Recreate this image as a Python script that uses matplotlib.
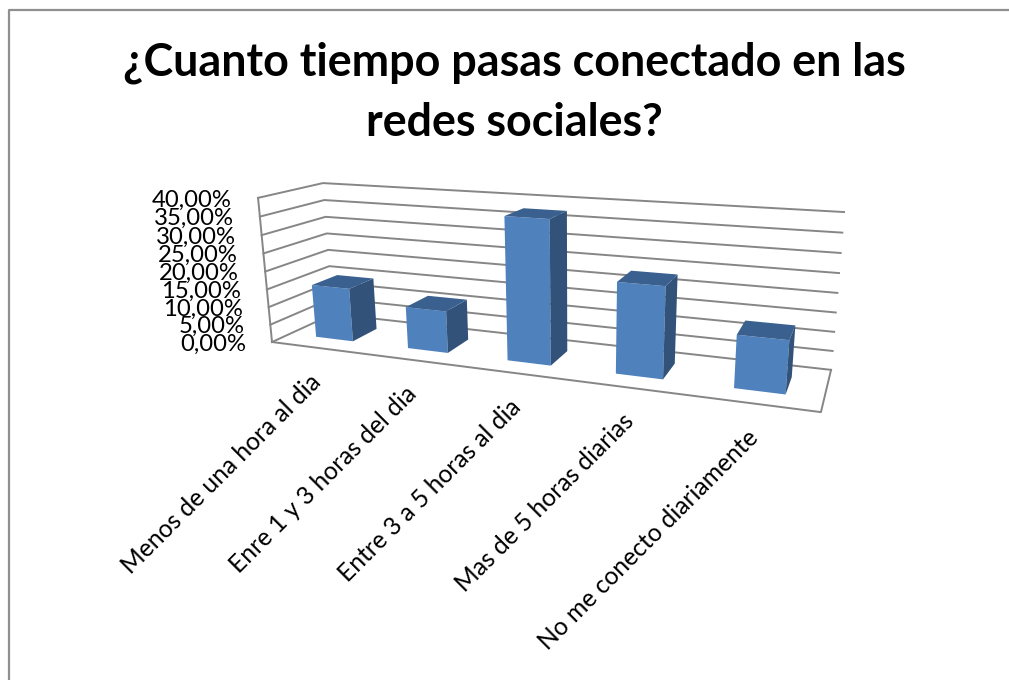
import numpy as np
import matplotlib
matplotlib.use('Agg')
import matplotlib.pyplot as plt
from matplotlib.patches import Polygon

# datos de la encuesta
categories = ['Menos de una hora al dia', 'Enre 1 y 3 horas del dia', 'Entre 3 a 5 horas al dia',
              'Mas de 5 horas diarias', 'No me conecto diariamente']
values = [15.0, 11.5, 37.8, 23.5, 13.3]
y_ticks = [0, 5, 10, 15, 20, 25, 30, 35, 40]
tick_labels = ['0,00%', '5,00%', '10,00%', '15,00%', '20,00%', '25,00%', '30,00%', '35,00%', '40,00%']
title_lines = ['¿Cuanto tiempo pasas conectado en las', 'redes sociales?']

W, H = 1009, 680
plt.rcParams['font.family'] = ['Lato', 'DejaVu Sans']

# caja 3d: (ancho, fondo, altura) -> pixel, camara ajustada con DLT sobre las esquinas
box_3d = [(0, 0, 0), (0, 0, 1), (0, 1, 1), (1, 1, 0), (1, 1, 1), (1, 0, 0)]
box_px = [(272, 342), (258, 198), (323, 183), (831, 370), (844, 212), (821, 412)]

rows = []
for (a, b, c), (px, py) in zip(box_3d, box_px):
    rows.append([a, b, c, 1, 0, 0, 0, 0, -px * a, -px * b, -px * c, -px])
    rows.append([0, 0, 0, 0, a, b, c, 1, -py * a, -py * b, -py * c, -py])
cam = np.linalg.svd(np.array(rows, dtype=float))[2][-1].reshape(3, 4)


def proj(u, d, v):
    # u: ancho 0-1, d: fondo 0-1, v: valor en %
    p = cam @ np.array([u, d, v / 40.0, 1.0])
    return p[0] / p[2], p[1] / p[2]


fig = plt.figure(figsize=(W / 100, H / 100), dpi=100)
ax = fig.add_axes([0, 0, 1, 1])
ax.set_xlim(0, W)
ax.set_ylim(H, 0)
ax.axis('off')

# marco exterior, el lado derecho queda fuera
ax.plot([8.5, 8.5, W + 5], [H + 5, 10, 10], color='#8f8f8f', lw=1.6)

ax.text(514, 63, title_lines[0], ha='center', va='center', fontsize=32.3, fontweight='bold', color='black')
ax.text(514, 123, title_lines[1], ha='center', va='center', fontsize=32.3, fontweight='bold', color='black')

grid_col = '#868686'
# lineas de la pared y del suelo
for v in y_ticks:
    ax.plot(*zip(proj(0, 0, v), proj(0, 1, v), proj(1, 1, v)), color=grid_col, lw=1.4, zorder=1)
ax.plot(*zip(proj(0, 0, 0), proj(0, 0, 40)), color=grid_col, lw=1.4, zorder=1)
ax.plot(*zip(proj(0, 0, 0), proj(1, 0, 0), proj(1, 1, 0)), color=grid_col, lw=1.4, zorder=1)

for v, lab in zip(y_ticks, tick_labels):
    x, y = proj(0, 0, v)
    ax.text(x - 26, y + 2, lab, ha='right', va='center', fontsize=17.2, color='black')

n = len(values)
bar_w = 0.082
d0, d1 = 0.28, 0.70
front_col, side_col, top_col = '#4f81bd', '#32527a', '#3a6090'

for i, v in enumerate(values):
    uc = (i + 0.5) / n
    u0, u1 = uc - bar_w / 2, uc + bar_w / 2
    ax.add_patch(Polygon([proj(u0, d0, 0), proj(u1, d0, 0), proj(u1, d0, v), proj(u0, d0, v)],
                         fc=front_col, ec='none', zorder=3))
    ax.add_patch(Polygon([proj(u1, d0, 0), proj(u1, d1, 0), proj(u1, d1, v), proj(u1, d0, v)],
                         fc=side_col, ec='none', zorder=3))
    ax.add_patch(Polygon([proj(u0, d0, v), proj(u1, d0, v), proj(u1, d1, v), proj(u0, d1, v)],
                         fc=top_col, ec='none', zorder=3))
    x, y = proj(uc, 0, 0)
    ax.text(x - 8, y + 22, categories[i], rotation=45, rotation_mode='anchor', ha='right', va='top',
            fontsize=17.7, color='black')

fig.savefig('out.png', dpi=100)
